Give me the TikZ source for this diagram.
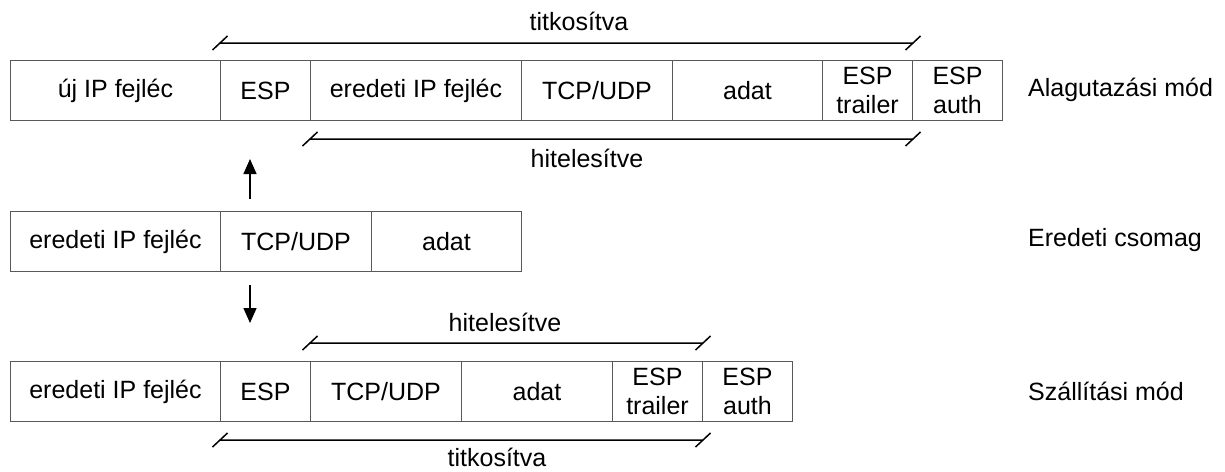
\documentclass[tikz,border=0pt]{standalone}
\usepackage{fontspec}
\setmainfont{Liberation Sans}
\usetikzlibrary{arrows.meta}

\begin{document}
\begin{tikzpicture}[x=1pt, y=-1pt,
  cell/.style={draw=black!65, line width=1pt, anchor=north west, minimum height=60pt,
    inner sep=0pt, align=center, font=\fontsize{25}{29}\selectfont},
  label/.style={font=\fontsize{25}{29}\selectfont, inner sep=0pt},
  mode/.style={label, anchor=west},
  span/.style={line width=1.5pt, to path={-- (\tikztotarget) ++(-7.5,7) -- ++(15,-14)
    (\tikztostart) ++(-7.5,7) -- ++(15,-14)}},
  flow/.style={-{Triangle[length=15pt, width=13pt]}, line width=1.5pt}
]
  \useasboundingbox (0,0) rectangle (1225,471);

  % alagutazasi mod
  \node[cell, minimum width=210pt] (t1new)  at (10,60)  {új IP fejléc};
  \node[cell, minimum width=90pt]  (t1esp)  at (220,60) {ESP};
  \node[cell, minimum width=211pt] (t1ip)   at (310,60) {eredeti IP fejléc};
  \node[cell, minimum width=151pt] (t1tcp)  at (521,60) {TCP/UDP};
  \node[cell, minimum width=150pt] (t1adat) at (672,60) {adat};
  \node[cell, minimum width=90pt]  (t1trl)  at (822,60) {ESP\\trailer};
  \node[cell, minimum width=90pt]  (t1auth) at (912,60) {ESP\\auth};
  \node[mode] (m1) at (1028,90) {Alagutazási mód};

  % eredeti csomag
  \node[cell, minimum width=210pt] (o1) at (10,211)  {eredeti IP fejléc};
  \node[cell, minimum width=151pt] (o2) at (220,211) {TCP/UDP};
  \node[cell, minimum width=150pt] (o3) at (371,211) {adat};
  \node[mode] (m2) at (1028,240) {Eredeti csomag};

  % szallitasi mod
  \node[cell, minimum width=210pt] (s1) at (10,361)  {eredeti IP fejléc};
  \node[cell, minimum width=90pt]  (s2) at (220,361) {ESP};
  \node[cell, minimum width=151pt] (s3) at (310,361) {TCP/UDP};
  \node[cell, minimum width=151pt] (s4) at (461,361) {adat};
  \node[cell, minimum width=90pt]  (s5) at (612,361) {ESP\\trailer};
  \node[cell, minimum width=90pt]  (s6) at (702,361) {ESP\\auth};
  \node[mode] (m3) at (1028,391) {Szállítási mód};

  % titkositva / hitelesitve
  \draw[span] ([yshift=17pt]t1esp.north west) to ([yshift=17pt]t1trl.north east);
  \node[label] (enc1) at (579,21) {titkosítva};
  \draw[span] ([yshift=-18pt]t1ip.south west) to ([yshift=-18pt]t1trl.south east);
  \node[label] (auth1) at (587,158) {hitelesítve};
  \draw[span] ([yshift=18pt]s3.north west) to ([yshift=18pt]s5.north east);
  \node[label] (auth2) at (505,322) {hitelesítve};
  \draw[span] ([yshift=-18pt]s2.south west) to ([yshift=-18pt]s5.south east);
  \node[label] (enc2) at (497,457) {titkosítva};

  % nyilak
  \coordinate (upA) at ([xshift=30pt, yshift=12pt]o2.north west);
  \coordinate (upB) at ([xshift=30pt, yshift=-38pt]t1esp.south west);
  \coordinate (downA) at ([xshift=30pt, yshift=-13pt]o2.south west);
  \coordinate (downB) at ([xshift=30pt, yshift=38pt]s2.north west);
  \draw[flow] (upA) -- (upB);
  \draw[flow] (downA) -- (downB);
\end{tikzpicture}
\end{document}
